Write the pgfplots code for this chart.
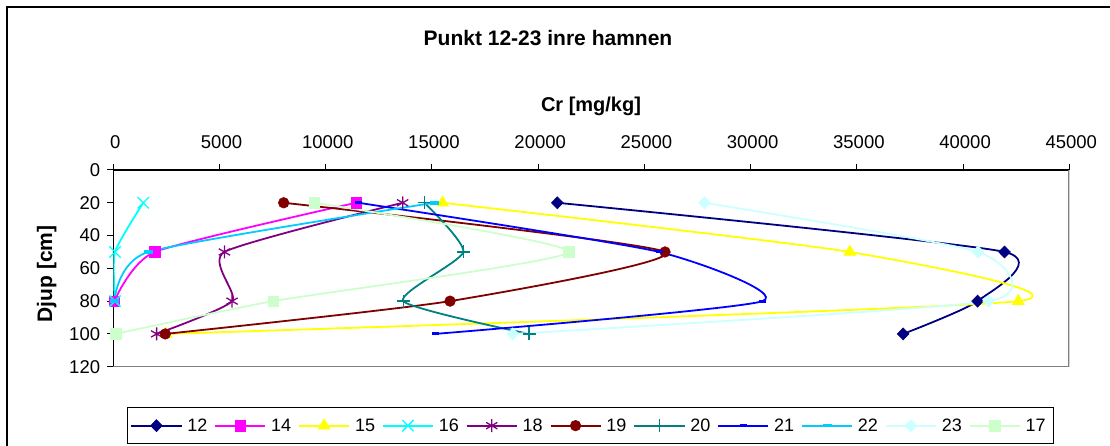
\documentclass[border=0pt]{standalone}
\usepackage{fontspec}
\setmainfont{Liberation Sans}
\usepackage{pgfplots}
\pgfplotsset{compat=1.18}

\definecolor{c12}{HTML}{000080}
\definecolor{c14}{HTML}{FF00FF}
\definecolor{c15}{HTML}{FFFF00}
\definecolor{c16}{HTML}{00FFFF}
\definecolor{c18}{HTML}{800080}
\definecolor{c19}{HTML}{800000}
\definecolor{c20}{HTML}{008080}
\definecolor{c21}{HTML}{0000FF}
\definecolor{c22}{HTML}{00CCFF}
\definecolor{c23}{HTML}{CCFFFF}
\definecolor{c17}{HTML}{CCFFCC}

\pgfplotsset{
  prof/.style={line width=1.8pt, smooth, tension=0.35},
}

\begin{document}
\begin{tikzpicture}
\useasboundingbox (0pt,0pt) rectangle (1110pt,446pt);
% chart area frame
\draw[line width=1.5pt] (7pt,-2pt) -- (7pt,439pt) -- (1112pt,439pt);

\node[font=\fontsize{21}{24}\selectfont\bfseries, anchor=base] at (548pt,400.3pt) {Punkt 12-23 inre hamnen};
\node[font=\fontsize{20}{24}\selectfont\bfseries, anchor=base] at (591pt,334.3pt) {Cr [mg/kg]};
\node[font=\fontsize{21}{24}\selectfont\bfseries, rotate=90, anchor=base] at (52pt,172pt) {Djup [cm]};

\begin{axis}[
  at={(113.3pt,79.3pt)}, anchor=south west,
  scale only axis, width=956pt, height=196.7pt,
  xmin=0, xmax=45000, ymin=0, ymax=120, y dir=reverse,
  axis x line*=top, axis y line*=left,
  axis line style={line width=1.2pt, -},
  xtick={0,5000,...,45000}, ytick={0,20,...,120},
  tick align=outside, major tick length=6pt,
  tick style={black, line width=1pt},
  scaled x ticks=false,
  /pgf/number format/1000 sep={},
  /pgf/number format/assume math mode=true,
  ticklabel style={font=\fontsize{18.5}{20}\selectfont},
  xticklabel style={inner sep=0pt, yshift=15pt, xshift=2pt},
  yticklabel style={inner sep=0pt, xshift=-7pt},
  legend columns=11,
  legend style={at={(0.0143,-0.205)}, anchor=north west,
    draw=black, line width=1.2pt,
    font=\fontsize{18}{20}\selectfont,
    inner xsep=3pt, inner ysep=9pt,
    nodes={inner xsep=5pt, inner ysep=2pt},
    /tikz/every even column/.append style={column sep=2pt}},
  legend image code/.code={\draw[mark repeat=2,mark phase=2] plot coordinates {(0pt,0pt) (25pt,0pt) (50pt,0pt)};},
]
\addplot[prof, c12, mark=diamond*, mark size=6pt, mark options={solid, fill=c12, line width=0.6pt, xscale=1.3}]
  coordinates {(20900,20) (41950,50) (40680,80) (37180,100)};
\addlegendentry{12}
\addplot[prof, c14, mark=square*, mark size=5.3pt, mark options={solid, fill=c14, line width=0.6pt}]
  coordinates {(11430,20) (1950,50) (50,80)};
\addlegendentry{14}
\addplot[prof, c15, mark=triangle*, mark size=6.8pt, mark options={solid, fill=c15, line width=0.6pt}]
  coordinates {(15500,20) (34670,50) (42600,80) (2480,100)};
\addlegendentry{15}
\addplot[prof, c16, mark=x, mark size=8pt, mark options={solid, line width=1.3pt}]
  coordinates {(1410,20) (80,50) (80,80)};
\addlegendentry{16}
\addplot[prof, c18, mark=asterisk, mark size=6.5pt, mark options={solid, line width=1.3pt}]
  coordinates {(13620,20) (5230,50) (5590,80) (2040,100)};
\addlegendentry{18}
\addplot[prof, c19, mark=*, mark size=5.3pt, mark options={solid, fill=c19, line width=0.6pt}]
  coordinates {(8020,20) (25970,50) (15850,80) (2450,100)};
\addlegendentry{19}
\addplot[prof, c20, mark=+, mark size=6.5pt, mark options={solid, line width=1.3pt}]
  coordinates {(14640,20) (16480,50) (13650,80) (19570,100)};
\addlegendentry{20}
\addplot[prof, c21, mark=-, mark size=3.5pt, mark options={solid, line width=3pt}]
  coordinates {(11540,20) (25700,50) (30560,80) (15150,100)};
\addlegendentry{21}
\addplot[prof, c22, mark=-, mark size=4.5pt, mark options={solid, line width=3.5pt}]
  coordinates {(15100,20) (1650,50) (50,80)};
\addlegendentry{22}
\addplot[prof, c23, mark=diamond*, mark size=6pt, mark options={solid, fill=c23, line width=0.6pt, xscale=1.3}]
  coordinates {(27830,20) (40710,50) (41200,80) (18800,100)};
\addlegendentry{23}
\addplot[prof, c17, mark=square*, mark size=5.3pt, mark options={solid, fill=c17, line width=0.6pt}]
  coordinates {(9460,20) (21450,50) (7530,80) (110,100)};
\addlegendentry{17}
% plot area border on the right and bottom
\draw[gray, line width=2pt] (axis cs:45000,0) -- (axis cs:45000,120) -- (axis cs:0,120);
\end{axis}
\end{tikzpicture}
\end{document}
